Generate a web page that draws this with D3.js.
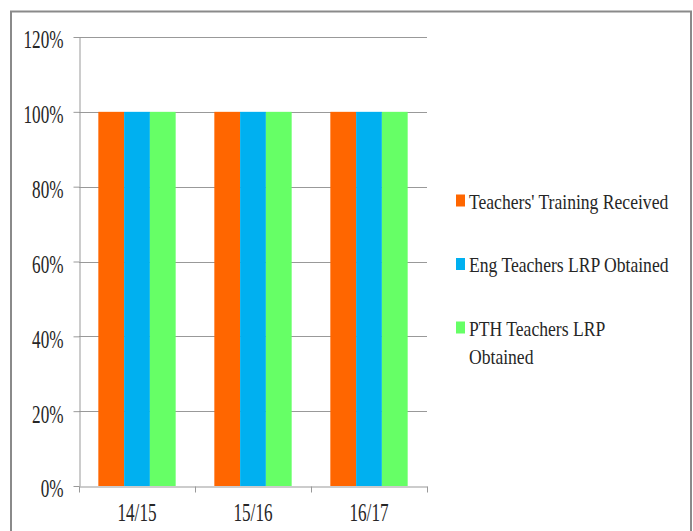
<!DOCTYPE html>
<html lang="en">
<head>
<meta charset="utf-8">
<title>Teachers' training and LRP</title>
<script src="https://cdn.jsdelivr.net/npm/d3@7"></script>
<style>
  body { margin: 0; background: #fff; }
  svg text { font-family: "Liberation Serif", "Times New Roman", serif; fill: #262626; }
</style>
</head>
<body>
<script>
// data
var years = ["14/15", "15/16", "16/17"];
var seriesNames = ["Teachers' Training Received", "Eng Teachers LRP Obtained", "PTH Teachers LRP Obtained"];
var trainingReceived = [1, 1, 1];
var engLrp = [1, 1, 1];
var pthLrp = [1, 1, 1];
var yTicks = [0, 0.2, 0.4, 0.6, 0.8, 1.0, 1.2];
var colors = ["#ff6600", "#00b0f0", "#66ff66"];

var allSeries = [trainingReceived, engLrp, pthLrp];

var w = 693, h = 531;
var squeeze = 0.66; // text in the picture is narrow

var svg = d3.select("body").append("svg")
    .attr("width", w)
    .attr("height", h);

// outer frame (bottom edge runs off the picture)
svg.append("path")
    .attr("d", "M11,531 V11.5 H691 V531")
    .attr("fill", "none")
    .attr("stroke", "#8a8a8a")
    .attr("stroke-width", 2);

var x0 = d3.scaleBand()
    .domain(years)
    .range([79, 427]);

var x1 = d3.scaleBand()
    .domain(d3.range(seriesNames.length))
    .range([0, x0.bandwidth()])
    .paddingOuter(0.75);

var y = d3.scaleLinear()
    .domain([0, 1.2])
    .range([486, 37]);

// gridlines
svg.append("g")
   .selectAll("line")
   .data(yTicks.filter(function(d) { return d > 0; }))
   .enter()
   .append("line")
   .attr("x1", 79)
   .attr("x2", 427)
   .attr("y1", function(d) { return Math.round(y(d)) + 0.5; })
   .attr("y2", function(d) { return Math.round(y(d)) + 0.5; })
   .attr("stroke", "#999")
   .attr("stroke-width", 1);

// bars
var groups = svg.append("g")
   .selectAll("g")
   .data(years)
   .enter()
   .append("g")
   .attr("transform", function(d) { return "translate(" + x0(d) + ",0)"; });

groups.selectAll("rect")
   .data(function(d, i) {
       return allSeries.map(function(s, k) { return { k: k, v: s[i] }; });
   })
   .enter()
   .append("rect")
   .attr("x", function(d) { return x1(d.k); })
   .attr("y", function(d) { return y(d.v); })
   .attr("width", x1.bandwidth())
   .attr("height", function(d) { return y(0) - y(d.v); })
   .attr("fill", function(d) { return colors[d.k]; });

// y axis
var yAxis = svg.append("g")
   .attr("transform", "translate(79.5,0)")
   .call(d3.axisLeft(y)
       .tickValues(yTicks)
       .tickFormat(d3.format(".0%"))
       .tickSize(6)
       .tickSizeOuter(0));

// x axis
var xAxis = svg.append("g")
   .attr("transform", "translate(0," + (y(0) + 0.5) + ")")
   .call(d3.axisBottom(d3.scaleLinear().domain([0, 3]).range([79, 427]))
       .tickValues([0, 1, 2, 3])
       .tickFormat("")
       .tickSize(6)
       .tickSizeOuter(0));

svg.selectAll(".domain, .tick line")
   .attr("stroke", "#999");

yAxis.selectAll("text")
   .attr("font-size", 26)
   .attr("x", -16 / squeeze)
   .attr("dy", "0.42em")
   .attr("transform", "scale(" + squeeze + ",1)");

// category labels
svg.append("g")
   .selectAll("text")
   .data(years)
   .enter()
   .append("text")
   .attr("transform", function(d) {
       return "translate(" + (x0(d) + x0.bandwidth() / 2) + ",521) scale(" + squeeze + ",1)";
   })
   .attr("text-anchor", "middle")
   .attr("font-size", 26)
   .text(function(d) { return d; });

// legend
var legendLines = [["Teachers' Training Received"], ["Eng Teachers LRP Obtained"], ["PTH Teachers LRP", "Obtained"]];
var legend = svg.append("g")
   .selectAll("g")
   .data(seriesNames)
   .enter()
   .append("g")
   .attr("transform", function(d, i) { return "translate(456," + (201.5 + i * 63.5) + ")"; });

legend.append("rect")
   .attr("x", 0)
   .attr("y", -7)
   .attr("width", 9)
   .attr("height", 12)
   .attr("fill", function(d, i) { return colors[i]; });

legend.each(function(d, i) {
    var t = d3.select(this).append("text")
        .attr("transform", "translate(13,7) scale(0.8,1)")
        .attr("font-size", 22);
    legendLines[i].forEach(function(line, j) {
        t.append("tspan")
         .attr("x", 0)
         .attr("dy", j === 0 ? 0 : 28.5)
         .text(line);
    });
});
</script>
</body>
</html>
